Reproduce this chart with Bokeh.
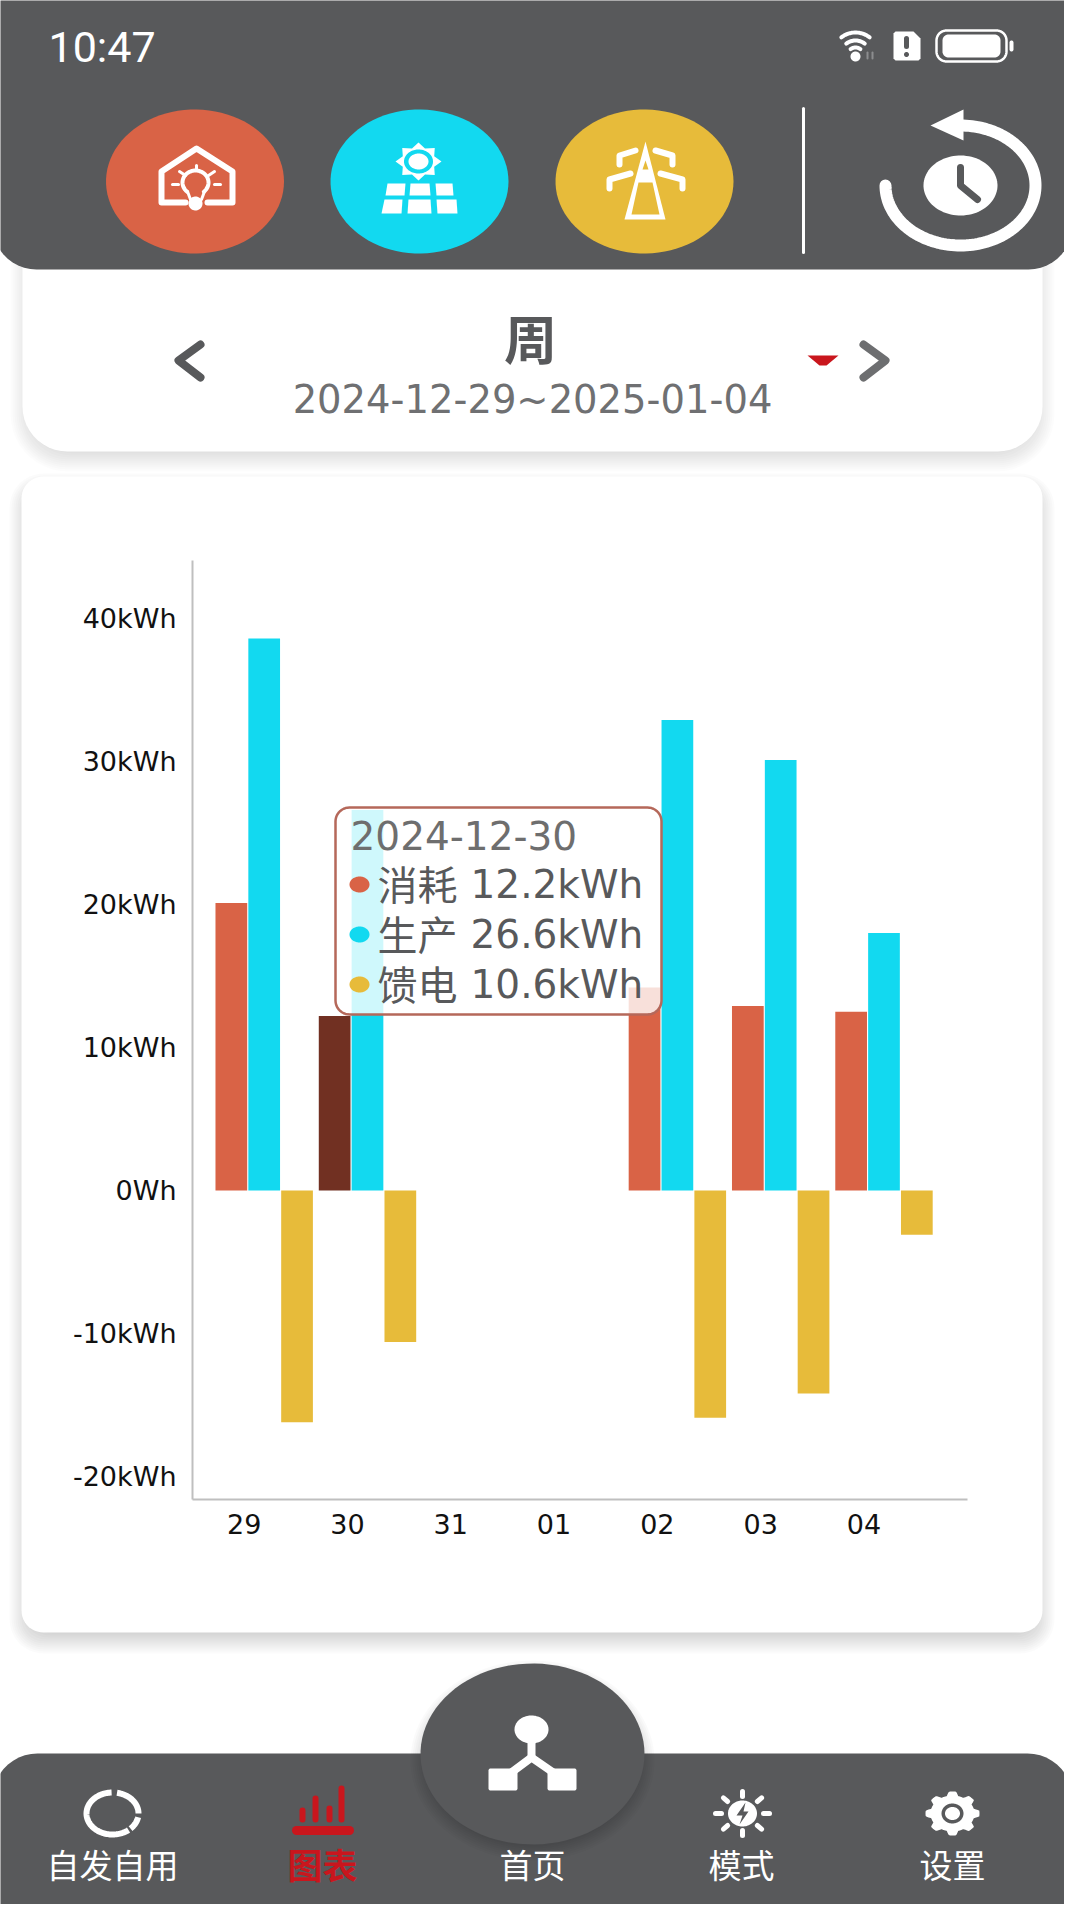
import numpy as np
from bokeh.core.properties import value
from bokeh.embed import file_html
from bokeh.models import FixedTicker, Range1d
from bokeh.plotting import figure
from bokeh.resources import INLINE

days = ["29", "30", "31", "01", "02", "03", "04"]
consumed = [20.1, 12.2, 0, 0, 14.2, 12.9, 12.5]
produced = [38.6, 26.6, 0, 0, 32.9, 30.1, 18.0]
fed_in = [-16.2, -10.6, 0, 0, -15.9, -14.2, -3.1]
y_ticks = [-20, -10, 0, 10, 20, 30, 40]
y_labels = ["-20kWh", "-10kWh", "0Wh", "10kWh", "20kWh", "30kWh", "40kWh"]
tip_date = "2024-12-30"
tip_index = 1
period = "2024-12-29~2025-01-04"
nav_labels = ["自发自用", "图表", "首页", "模式", "设置"]

GREY = "#58595b"
RED = "#d96346"
CYAN = "#12d9f0"
GOLD = "#e7bb3a"
DARK = "#713022"
ALERT = "#c9161d"
CJK = "Noto Sans CJK SC"
LATIN = "DejaVu Sans"

# the canvas is laid out in page pixels, the chart sits on its own scale inside it
AXIS_X, AXIS_Y, AXIS_END, AXIS_TOP = 200, 1507, 975, 568
BAND, ZERO_Y, KWH = 103.3, 1198, 14.3


def day_at(px):
    return (px - AXIS_X) / BAND - 0.5


def kwh_at(py):
    return (ZERO_Y - py) / KWH


p = figure(width=1064, height=1904, output_backend="svg", toolbar_location=None,
           x_range=Range1d(day_at(8), day_at(1072)), y_range=Range1d(kwh_at(1912), kwh_at(8)),
           extra_x_ranges={"px": Range1d(8, 1072)}, extra_y_ranges={"px": Range1d(1912, 8)},
           min_border=0)
p.outline_line_color = None
p.background_fill_color = "#ffffff"
p.grid.visible = False


def rrect(x0, y0, x1, y1, r):
    t = np.linspace(0, np.pi / 2, 12)
    xs = np.concatenate([x1 - r + r * np.sin(t), x1 - r + r * np.cos(t), x0 + r - r * np.sin(t), x0 + r - r * np.cos(t)])
    ys = np.concatenate([y0 + r - r * np.cos(t), y1 - r + r * np.sin(t), y1 - r + r * np.cos(t), y0 + r - r * np.sin(t)])
    return xs, ys


def ell(cx, cy, rx, ry, a0=0, a1=360, n=90):
    t = np.radians(np.linspace(a0, a1, n))
    return cx + rx * np.cos(t), cy - ry * np.sin(t)


def fill(pts, color="#ffffff", alpha=1.0, level="underlay"):
    p.patch(list(pts[0]), list(pts[1]), fill_color=color, fill_alpha=alpha, line_color=None,
            x_range_name="px", y_range_name="px", level=level)


def poly(points, color="#ffffff"):
    fill(([a for a, _ in points], [b for _, b in points]), color)


def stroke(pts, color="#ffffff", w=4, level="underlay", cap="round"):
    p.line(list(pts[0]), list(pts[1]), line_color=color, line_width=w, line_cap=cap, line_join="round",
           x_range_name="px", y_range_name="px", level=level)


def path(points, color="#ffffff", w=4):
    stroke(([a for a, _ in points], [b for _, b in points]), color, w)


def txt(x, y, s, size, color, font=CJK, align="center", style="normal", level="underlay"):
    p.text([x], [y], text=[s], text_font=value(font), text_font_size=f"{size}px", text_color=color,
           text_font_style=style, text_align=align, text_baseline="middle",
           x_range_name="px", y_range_name="px", level=level)


def shadow(x0, y0, x1, y1, r, dy=8, n=12, a=0.012):
    for i in range(n):
        g = n - 2 * i
        fill(rrect(x0 - g, y0 - g + dy, x1 + g, y1 + g + dy, r + max(g, 0)), "#000000", a)


# cards
shadow(30, 200, 1050, 459, 45, 8)
fill(rrect(30, 200, 1050, 459, 45))
shadow(29, 484, 1050, 1640, 22, 9, a=0.016)
fill(rrect(29, 484, 1050, 1640, 22))

# header
fill(rrect(0, -80, 1080, 277, 44), GREY)
txt(56, 54, "10:47", 43, "#ffffff", "Roboto", "left")
for r in (23, 15, 8):
    stroke(ell(863, 63, r, r, 52, 128, 20), w=4)
fill(ell(863, 64, 5, 5))
path([(875, 60), (875, 66)], "#8c8d8f", 2)
path([(880, 60), (880, 66)], "#8c8d8f", 2)
poly([(903, 39), (921, 39), (928, 46), (928, 66), (926, 68), (903, 68), (901, 66), (901, 41)])
path([(914, 46), (914, 54)], GREY, 5)
fill(ell(914, 62, 2.5, 2.5), GREY)
bx, by = rrect(944, 38, 1014, 69, 10)
stroke((np.append(bx, bx[0]), np.append(by, by[0])), w=2.5)
fill(rrect(950, 42, 1008, 65, 6))
fill(rrect(1017, 48, 1021, 59, 2))

fill(ell(202.5, 189, 89, 72), RED)
fill(ell(427, 189, 89, 72), CYAN)
fill(ell(652, 189, 89, 72), GOLD)

# house icon
path([(193, 210), (169, 210), (169, 179), (204, 156), (240, 179), (240, 210), (215, 210)], w=6)
stroke(ell(203, 190, 13, 12, -50, 230), w=4)
path([(195, 199), (198, 207)], w=3)
path([(212, 199), (209, 207)], w=3)
fill(ell(203, 211, 7, 7))
for a, b in [((204, 173), (204, 178)), ((187, 179), (193, 183)), ((222, 179), (216, 183)),
             ((180, 192), (186, 192)), ((222, 192), (228, 192))]:
    path([a, b], w=3)

# solar icon
star = np.radians(np.arange(0, 360, 22.5))
fill((426 + np.where(np.arange(16) % 2 == 0, 23, 17) * np.cos(star),
      169 - np.where(np.arange(16) % 2 == 0, 19, 14) * np.sin(star)))
fill(ell(426, 169, 14.5, 12), CYAN)
fill(ell(426, 169, 10, 8))
for q in [[(395, 191), (413, 191), (412, 203), (393, 203)], [(418, 191), (437, 191), (438, 203), (417, 203)],
          [(443, 191), (460, 191), (461, 203), (444, 203)], [(392, 207), (410, 207), (409, 221), (389, 221)],
          [(416, 207), (438, 207), (439, 221), (415, 221)], [(444, 207), (464, 207), (465, 221), (445, 221)]]:
    poly(q)

# tower icon
poly([(653, 149), (673, 227), (632, 227)])
poly([(646, 190), (660, 190), (667, 222), (639, 222)], GOLD)
poly([(653, 168), (656, 177), (650, 177)], GOLD)
path([(643, 158), (627, 163), (627, 172)], w=6)
path([(663, 158), (680, 163), (680, 172)], w=6)
path([(638, 181), (617, 187), (617, 196)], w=6)
path([(668, 181), (690, 187), (690, 196)], w=6)

# history icon
path([(811, 116), (811, 260)], w=3)
stroke(ell(968, 193, 75, 60, 180, 448, 120), w=12)
poly([(938, 133), (971, 117), (971, 148)])
fill(ell(968, 193, 37, 30))
path([(968, 175), (968, 193), (985, 207)], GREY, 7)

# period selector
txt(538, 344, "周", 53, GREY, style="bold")
txt(540, 407, period, 38.5, "#6f7072", LATIN)
path([(208, 352), (186, 368), (208, 385)], GREY, 8)
path([(871, 352), (893, 368), (871, 385)], "#6d6e70", 8)
poly([(815, 363), (846, 363), (834, 373), (827, 373)], ALERT)

# chart
pos = np.arange(len(days))
red_colors = [DARK if i == tip_index else RED for i in pos]
p.vbar(pos - 0.124, 0.307, 0, consumed, fill_color=red_colors, line_color=None)
p.vbar(pos + 0.194, 0.307, 0, produced, fill_color=CYAN, line_color=None)
p.vbar(pos + 0.512, 0.307, 0, fed_in, fill_color=GOLD, line_color=None)

p.xaxis.fixed_location = kwh_at(AXIS_Y)
p.yaxis.fixed_location = day_at(AXIS_X)
p.xaxis.bounds = (day_at(AXIS_X), day_at(AXIS_END))
p.yaxis.bounds = (kwh_at(AXIS_Y), kwh_at(AXIS_TOP))
p.xaxis.ticker = FixedTicker(ticks=[int(i) for i in pos])
p.xaxis.major_label_overrides = {int(i): days[i] for i in pos}
p.yaxis.ticker = FixedTicker(ticks=y_ticks)
p.yaxis.major_label_overrides = dict(zip(y_ticks, y_labels))
for ax in (p.xaxis, p.yaxis):
    ax.axis_line_color = "#bfbfbf"
    ax.axis_line_width = 2
    ax.major_tick_line_color = None
    ax.minor_tick_line_color = None
    ax.major_label_text_font = LATIN
    ax.major_label_text_font_size = "27px"
    ax.major_label_text_color = "#111111"
p.xaxis.major_label_standoff = 8
p.yaxis.major_label_standoff = 10

# tooltip
tip = rrect(343, 815, 669, 1022, 14)
fill(tip, "#ffffff", 0.8, "overlay")
p.patch(list(tip[0]), list(tip[1]), fill_color=None, line_color="#b5685a", line_width=2.5,
        x_range_name="px", y_range_name="px", level="overlay")
txt(358, 843, tip_date, 39, "#6e6e6e", LATIN, "left", level="overlay")
rows = [("消耗", consumed, RED, 892), ("生产", produced, CYAN, 942), ("馈电", fed_in, GOLD, 992)]
for name, vals, color, y in rows:
    fill(ell(367, y, 10, 8), color, 1, "overlay")
    txt(385, y - 2, name, 40, "#58595b", align="left", level="overlay")
    txt(478, y, f"{abs(vals[tip_index])}kWh", 39, "#58595b", LATIN, "left", level="overlay")

# bottom bar
fill(rrect(0, 1761, 1080, 2000, 45), GREY)
for i in range(10):
    g = 10 - 2 * i
    fill(ell(540, 1768, 112 + g, 90 + g), "#000000", 0.02)
fill(ell(540, 1761.5, 112, 90.5), GREY)

fill(ell(539, 1737, 17, 14))
path([(539, 1745), (539, 1765)], w=8)
path([(512, 1785), (539, 1765), (568, 1785)], w=8)
fill(rrect(496, 1776, 525, 1798, 2))
fill(rrect(555, 1776, 584, 1798, 2))

stroke(ell(120, 1821, 26, 21, 92, 308), w=6, cap="butt")
stroke(ell(120, 1821, 26, 21, -46, -10, 12), w=6, cap="butt")
stroke(ell(120, 1821, 26, 21, 0, 80, 30), w=6, cap="butt")

path([(304, 1838), (357, 1838)], ALERT, 9)
for x, top in [(310, 1818), (323, 1806), (337, 1816), (349, 1796)]:
    path([(x, top), (x, 1827)], ALERT, 6)

fill(ell(750, 1821, 14.5, 13))
fill(([753, 744, 750, 747, 756, 751], [1810, 1823, 1823, 1832, 1819, 1819]), GREY)
for a in np.radians(np.arange(0, 360, 45)):
    path([(750 + 21 * np.cos(a), 1821 - 17 * np.sin(a)), (750 + 27 * np.cos(a), 1821 - 22 * np.sin(a))], w=5)

t = np.radians(np.linspace(0, 360, 240))
bump = np.clip(np.cos(8 * t) * 2, -1, 1) * 0.5 + 0.5
fill((960 + (22 + 5 * bump) * np.cos(t), 1821 - (18 + 4 * bump) * np.sin(t)))
fill(ell(960, 1821, 11, 10), GREY)
fill(ell(960, 1821, 7.5, 6.5))

txt(120, 1871, nav_labels[0], 33, "#ffffff")
txt(330, 1871, nav_labels[1], 35, ALERT, style="bold")
txt(540, 1871, nav_labels[2], 33, "#ffffff")
txt(749, 1871, nav_labels[3], 33, "#ffffff")
txt(960, 1871, nav_labels[4], 33, "#ffffff")

open("out.html", "w").write(file_html(p, INLINE))
